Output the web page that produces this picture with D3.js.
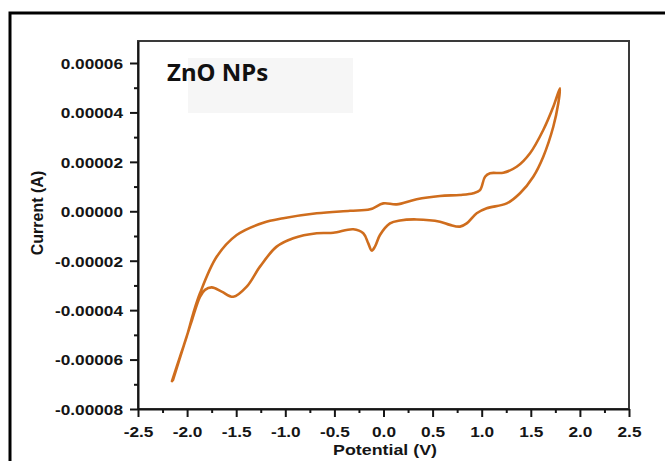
<!DOCTYPE html>
<html>
<head>
<meta charset="utf-8">
<script src="https://cdn.jsdelivr.net/npm/d3@7"></script>
<style>
  body { margin: 0; background: #fff; }
  svg { display: block; }
</style>
</head>
<body>
<svg id="chart" width="665" height="461"></svg>
<script>
// forward scan (-2.15 V -> 1.8 V), upper branch
const potentialForward = [-2.154, -2.072, -2.004, -1.937, -1.869, -1.699, -1.495, -1.224, -1.020, -0.680,
  -0.341, -0.137, -0.002, 0.134, 0.338, 0.575, 0.779, 0.914, 0.983, 1.034, 1.085, 1.220, 1.356, 1.492,
  1.627, 1.729, 1.797];
const currentForward = [-6.87e-5, -5.88e-5, -5.07e-5, -4.13e-5, -3.32e-5, -1.84e-5, -0.96e-5, -0.46e-5,
  -0.28e-5, -0.08e-5, 0.02e-5, 0.08e-5, 0.32e-5, 0.28e-5, 0.49e-5, 0.62e-5, 0.66e-5, 0.73e-5, 0.86e-5,
  1.40e-5, 1.54e-5, 1.56e-5, 1.80e-5, 2.35e-5, 3.29e-5, 4.23e-5, 4.98e-5];

// reverse scan (1.8 V -> -2.15 V), lower branch
const potentialReverse = [1.780, 1.729, 1.627, 1.525, 1.390, 1.255, 1.051, 0.949, 0.847, 0.779, 0.677,
  0.575, 0.338, 0.168, 0.066, -0.036, -0.087, -0.120, -0.155, -0.206, -0.308, -0.511, -0.680, -0.919,
  -1.088, -1.258, -1.393, -1.530, -1.648, -1.749, -1.818, -1.869, -1.950, -2.032, -2.144];
const currentReverse = [4.37e-5, 3.42e-5, 2.21e-5, 1.40e-5, 0.73e-5, 0.32e-5, 0.12e-5, -0.08e-5, -0.49e-5,
  -0.62e-5, -0.55e-5, -0.42e-5, -0.33e-5, -0.37e-5, -0.49e-5, -0.96e-5, -1.43e-5, -1.59e-5, -1.30e-5,
  -0.89e-5, -0.73e-5, -0.87e-5, -0.89e-5, -1.09e-5, -1.43e-5, -2.24e-5, -3.05e-5, -3.46e-5, -3.25e-5,
  -3.08e-5, -3.18e-5, -3.46e-5, -4.40e-5, -5.41e-5, -6.83e-5];

const xTickValues = [-2.5, -2.0, -1.5, -1.0, -0.5, 0.0, 0.5, 1.0, 1.5, 2.0, 2.5];
const xTickLabels = ["-2.5", "-2.0", "-1.5", "-1.0", "-0.5", "0.0", "0.5", "1.0", "1.5", "2.0", "2.5"];
const yTickValues = [-0.00008, -0.00006, -0.00004, -0.00002, 0, 0.00002, 0.00004, 0.00006];
const yTickLabels = ["-0.00008", "-0.00006", "-0.00004", "-0.00002", "0.00000", "0.00002", "0.00004", "0.00006"];

const svg = d3.select('#chart');
const plotLeft = 138, plotRight = 629, plotTop = 41, plotBottom = 409;
const font = "'Liberation Sans', Arial, sans-serif";
const ink = '#151515';

const x = d3.scaleLinear().domain([-2.5, 2.5]).range([plotLeft, plotRight]);
const y = d3.scaleLinear().domain([-0.00008, 0.0000689]).range([plotBottom, plotTop]);

// outer frame of the figure
svg.append('rect')
  .attr('x', 10).attr('y', 13)
  .attr('width', 700).attr('height', 500)
  .attr('fill', 'none').attr('stroke', '#000').attr('stroke-width', 3);

// faint box behind the label
svg.append('rect')
  .attr('x', 188).attr('y', 58).attr('width', 165).attr('height', 55)
  .attr('fill', '#f6f6f6');

svg.append('text')
  .attr('x', 167).attr('y', 81)
  .attr('font-family', "'Noto Sans', sans-serif")
  .attr('font-weight', 700)
  .attr('font-size', 24)
  .attr('fill', '#111')
  .text('ZnO NPs');

// plot box
svg.append('rect')
  .attr('x', plotLeft).attr('y', plotTop)
  .attr('width', plotRight - plotLeft).attr('height', plotBottom - plotTop)
  .attr('fill', 'none').attr('stroke', '#3a3a3a').attr('stroke-width', 2);

// minor ticks
const xMinor = d3.range(-2.25, 2.5, 0.5);
const yMinor = d3.range(-0.00007, 0.00007, 0.00002);

svg.append('g')
  .attr('transform', `translate(0,${plotBottom})`)
  .call(d3.axisBottom(x).tickValues(xMinor).tickSize(4).tickSizeOuter(0).tickFormat(''))
  .call(g => g.select('.domain').remove())
  .call(g => g.selectAll('line').attr('stroke', ink).attr('stroke-width', 2));

svg.append('g')
  .attr('transform', `translate(${plotLeft},0)`)
  .call(d3.axisLeft(y).tickValues(yMinor).tickSize(4).tickSizeOuter(0).tickFormat(''))
  .call(g => g.select('.domain').remove())
  .call(g => g.selectAll('line').attr('stroke', ink).attr('stroke-width', 2));

// major axes
const xAxis = svg.append('g')
  .attr('transform', `translate(0,${plotBottom})`)
  .call(d3.axisBottom(x).tickValues(xTickValues).tickSize(8).tickSizeOuter(0)
    .tickFormat((d, i) => xTickLabels[i]));

const yAxis = svg.append('g')
  .attr('transform', `translate(${plotLeft},0)`)
  .call(d3.axisLeft(y).tickValues(yTickValues).tickSize(8).tickSizeOuter(0)
    .tickFormat((d, i) => yTickLabels[i]));

[xAxis, yAxis].forEach(g => {
  g.select('.domain').attr('stroke', ink).attr('stroke-width', 2);
  g.selectAll('line').attr('stroke', ink).attr('stroke-width', 2);
  g.selectAll('text')
    .attr('font-family', font)
    .attr('font-weight', 700)
    .attr('font-size', 15)
    .attr('fill', ink);
});

xAxis.selectAll('text')
  .attr('y', null).attr('dy', null)
  .attr('transform', 'translate(0,28) scale(1.15,1)');

yAxis.selectAll('text')
  .attr('x', null).attr('dy', '0.36em')
  .attr('transform', 'translate(-15,0) scale(1.15,1)');

// axis titles
svg.append('text')
  .attr('transform', 'translate(385,455) scale(1.15,1)')
  .attr('text-anchor', 'middle')
  .attr('font-family', font).attr('font-weight', 700).attr('font-size', 15.5)
  .attr('fill', ink)
  .text('Potential (V)');

svg.append('text')
  .attr('transform', 'translate(43,213) rotate(-90)')
  .attr('text-anchor', 'middle')
  .attr('font-family', font).attr('font-weight', 700).attr('font-size', 16)
  .attr('fill', ink)
  .text('Current (A)');

// CV loop
const loop = potentialForward.map((v, i) => [v, currentForward[i]])
  .concat(potentialReverse.map((v, i) => [v, currentReverse[i]]));

const line = d3.line()
  .x(d => x(d[0]))
  .y(d => y(d[1]))
  .curve(d3.curveCatmullRom.alpha(0.5));

svg.append('path')
  .datum(loop)
  .attr('fill', 'none')
  .attr('stroke', '#cf6d1d')
  .attr('stroke-width', 2.6)
  .attr('stroke-linejoin', 'round')
  .attr('stroke-linecap', 'round')
  .attr('d', line);
</script>
</body>
</html>
